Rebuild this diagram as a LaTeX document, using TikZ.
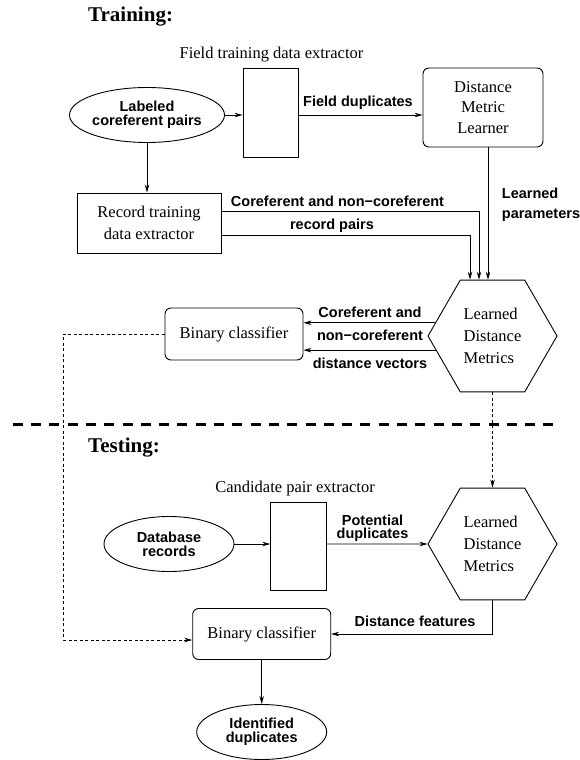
\documentclass[tikz,border=0pt]{standalone}
\usepackage{fontspec}
\setmainfont{Liberation Serif}
\setsansfont{Liberation Sans}
\usetikzlibrary{shapes.geometric,arrows.meta}
\begin{document}
\begin{tikzpicture}[x=1pt,y=-1pt,
 serif/.style={font=\fontsize{16.5}{22}\selectfont},
 lbl/.style={font=\sffamily\bfseries\fontsize{14.5}{14}\selectfont, inner sep=0},
 box/.style={draw, line width=0.9pt, serif, align=center, inner sep=0},
 rbox/.style={box, rounded corners=6pt},
 oval/.style={draw, ellipse, line width=0.9pt, lbl, align=center, minimum width=130, minimum height=55},
 hex/.style={draw, regular polygon, regular polygon sides=6, minimum size=129, inner sep=0, line width=0.9pt, serif, align=left},
 arr/.style={-{Stealth[length=8pt,width=4.5pt]}, line width=0.8pt},
 darr/.style={arr, dash pattern=on 3pt off 2.5pt},
 sep/.style={line width=3pt, dash pattern=on 10pt off 8.3pt},
 ttl/.style={font=\bfseries\fontsize{21}{21}\selectfont, inner sep=0, anchor=base west}]
\useasboundingbox (0,0) rectangle (580,760);

% ---------- Training ----------
\node[ttl] (t1) at (88,21.7) {Training:};
\node[serif, inner sep=0, anchor=base] (ftl) at (271.5,59) {Field training data extractor};
\node[box, minimum width=55, minimum height=89] (fte) at (270.5,112.5) {};
\node[oval] (lab) at (147,115) {Labeled\\coreferent pairs};
\node[rbox, minimum width=120, minimum height=79, font=\fontsize{16.5}{20.5}\selectfont] (dml) at (483,107.5) {Distance\\Metric\\Learner};
\node[box, minimum width=144, minimum height=60] (rec) at (149,223) {Record training\\data extractor};
\node[hex] (h1) at (492.5,336) {Learned\\Distance\\Metrics};
\node[rbox, minimum width=138, minimum height=52] (bc1) at (234,334) {Binary classifier};

\draw[arr] (lab) -- (lab -| fte.west);
\draw[arr] (lab -| fte.east) -- (lab -| dml.west);
\node[lbl, anchor=base] (fd) at (358,106.7) {Field duplicates};
\draw[arr] (lab.south) -- (lab.south |- rec.north);
\draw[arr] ([xshift=5pt]dml.south) -- ([xshift=5pt]dml.south |- h1.north);
\node[lbl, anchor=base west] (lp1) at (501.7,198.3) {Learned};
\node[lbl, anchor=base west] (lp2) at (501.7,218.3) {parameters};
\draw[arr] ([yshift=11.3pt]rec.east) -| ([xshift=-13.5pt]h1.north);
\draw[arr] ([yshift=-12pt]rec.east) -| ([xshift=-22.5pt]h1.north);
\node[lbl, anchor=base] (cl1) at (337.5,206.7) {Coreferent and non−coreferent};
\node[lbl, anchor=base] (cl2) at (332,229) {record pairs};
\draw[arr] (h1.167) -- (h1.167 -| bc1.east);
\draw[arr] (h1.194) -- (h1.194 -| bc1.east);
\node[lbl, anchor=base] (dv1) at (370,317.7) {Coreferent and};
\node[lbl, anchor=base] (dv2) at (370,340) {non−coreferent};
\node[lbl, anchor=base] (dv3) at (370,368.3) {distance vectors};

% ---------- separator ----------
\coordinate (s1) at (12.7,424);
\coordinate (s2) at (556.7,424);
\draw[sep] (s1) -- (s2);

% ---------- Testing ----------
\node[ttl] (t2) at (88,452) {Testing:};
\node[serif, inner sep=0, anchor=base] (cpl) at (295,492.7) {Candidate pair extractor};
\node[box, minimum width=56, minimum height=88] (cpe) at (298.7,546) {};
\node[oval] (db) at (169,544) {Database\\records};
\node[hex] (h2) at (492.5,544) {Learned\\Distance\\Metrics};
\node[rbox, minimum width=138, minimum height=51] (bc2) at (261.7,634) {Binary classifier};
\node[oval] (idd) at (261.7,732) {Identified\\duplicates};

\draw[darr] (h1.south) -- (h2.north);
\draw[arr] (db) -- (db -| cpe.west);
\draw[arr] (db -| cpe.east) -- (h2.west);
\node[lbl, anchor=base] (pd1) at (372.5,525) {Potential};
\node[lbl, anchor=base] (pd2) at (372.5,538.3) {duplicates};
\draw[arr] (h2.south) |- (bc2.east);
\node[lbl, anchor=base] (dfl) at (415,626.7) {Distance features};
\coordinate (dl) at (63.3,500);
\draw[darr] (bc1.west) -| (dl) |- ([yshift=-6pt]bc2.west);
\draw[arr] (bc2.south) -- (idd.north);
\end{tikzpicture}
\end{document}
